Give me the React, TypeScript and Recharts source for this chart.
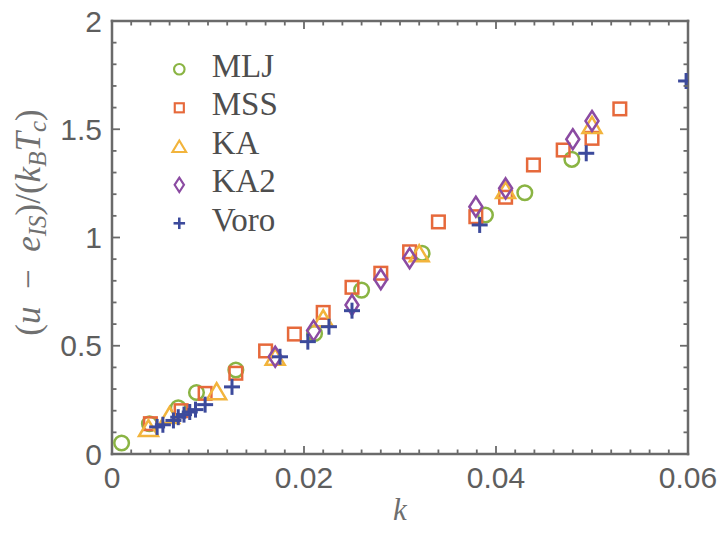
import React from 'react';
import { ScatterChart, Scatter, XAxis, YAxis, Legend } from 'recharts';

// ---- data ----
const mljK = [0.001, 0.0039, 0.0069, 0.0088, 0.0129, 0.0211, 0.026, 0.0323, 0.0389, 0.043, 0.0479];
const mljV = [0.051, 0.14, 0.213, 0.284, 0.388, 0.557, 0.757, 0.927, 1.104, 1.207, 1.361];

const mssK = [0.004, 0.0072, 0.0097, 0.0129, 0.016, 0.019, 0.022, 0.025, 0.028, 0.031, 0.034, 0.0379, 0.041, 0.0439, 0.047, 0.05, 0.0529];
const mssV = [0.14, 0.2, 0.28, 0.373, 0.476, 0.554, 0.654, 0.77, 0.835, 0.934, 1.072, 1.096, 1.186, 1.335, 1.404, 1.458, 1.594];

const kaK = [0.0038, 0.006, 0.0109, 0.017, 0.022, 0.032, 0.041, 0.05];
const kaV = [0.12, 0.18, 0.29, 0.449, 0.627, 0.927, 1.219, 1.52];

const ka2K = [0.017, 0.021, 0.025, 0.028, 0.031, 0.0379, 0.041, 0.048, 0.05];
const ka2V = [0.449, 0.57, 0.688, 0.807, 0.904, 1.142, 1.227, 1.454, 1.538];

const voroK = [0.0047, 0.0053, 0.0064, 0.0069, 0.0075, 0.0081, 0.0087, 0.0097, 0.0125, 0.0175, 0.0204, 0.0226, 0.025, 0.0383, 0.0494, 0.0598];
const voroV = [0.125, 0.135, 0.155, 0.17, 0.182, 0.194, 0.205, 0.228, 0.31, 0.449, 0.519, 0.588, 0.662, 1.058, 1.389, 1.723];

const seriesNames = ['MLJ', 'MSS', 'KA', 'KA2', 'Voro'];

const xMajorTicks = [0, 0.02, 0.04, 0.06];
const xTickLabels = ['0', '0.02', '0.04', '0.06'];
const xMinorTicks = [0, 0.002, 0.004, 0.006, 0.008, 0.01, 0.012, 0.014, 0.016, 0.018, 0.02, 0.022, 0.024, 0.026, 0.028, 0.03, 0.032, 0.034, 0.036, 0.038, 0.04, 0.042, 0.044, 0.046, 0.048, 0.05, 0.052, 0.054, 0.056, 0.058, 0.06];

const yMajorTicks = [0, 0.5, 1, 1.5, 2];
const yTickLabels = ['0', '0.5', '1', '1.5', '2'];
const yMinorTicks = [0, 0.1, 0.2, 0.3, 0.4, 0.5, 0.6, 0.7, 0.8, 0.9, 1, 1.1, 1.2, 1.3, 1.4, 1.5, 1.6, 1.7, 1.8, 1.9, 2];

const zip = (ks: number[], vs: number[]) => ks.map((k, i) => ({ k, v: vs[i] }));

const mljData = zip(mljK, mljV);
const mssData = zip(mssK, mssV);
const kaData = zip(kaK, kaV);
const ka2Data = zip(ka2K, ka2V);
const voroData = zip(voroK, voroV);

// ---- style ----
const FRAME = '#6a6a6a';
const TICK_TEXT = '#5e5e5e';
const C_MLJ = '#8ab443';
const C_MSS = '#e6693b';
const C_KA = '#f2b43c';
const C_KA2 = '#8b4ba2';
const C_VORO = '#3c4a9c';

type MP = { cx: number; cy: number; s?: number };

const CircleM = ({ cx, cy, s = 1 }: MP) => (
  <circle cx={cx} cy={cy} r={7.3 * s} fill="none" stroke={C_MLJ} strokeWidth={2.5 * Math.max(s, 0.85)} />
);
const SquareM = ({ cx, cy, s = 1 }: MP) => {
  const h = 6.3 * s;
  return <rect x={cx - h} y={cy - h} width={2 * h} height={2 * h} fill="none" stroke={C_MSS} strokeWidth={2.5 * Math.max(s, 0.85)} />;
};
const TriM = ({ cx, cy, s = 1 }: MP) => {
  const w = 9.5 * s;
  const h = 8 * s;
  return (
    <polygon
      points={`${cx},${cy - h} ${cx + w},${cy + h} ${cx - w},${cy + h}`}
      fill="none"
      stroke={C_KA}
      strokeWidth={2.5 * Math.max(s, 0.85)}
    />
  );
};
const DiaM = ({ cx, cy, s = 1 }: MP) => {
  const w = 6.5 * s;
  const h = 10 * s;
  return (
    <polygon
      points={`${cx},${cy - h} ${cx + w},${cy} ${cx},${cy + h} ${cx - w},${cy}`}
      fill="none"
      stroke={C_KA2}
      strokeWidth={2.5 * Math.max(s, 0.85)}
    />
  );
};
const PlusM = ({ cx, cy, s = 1 }: MP) => {
  const h = 8 * s;
  return (
    <g stroke={C_VORO} strokeWidth={3 * Math.max(s, 0.85)}>
      <line x1={cx - h} y1={cy} x2={cx + h} y2={cy} />
      <line x1={cx} y1={cy - h} x2={cx} y2={cy + h} />
    </g>
  );
};

const markers = [CircleM, SquareM, TriM, DiaM, PlusM];

const isIn = (arr: number[], v: number) => arr.findIndex((m) => Math.abs(m - v) < 1e-9);

const XTick = (props: any) => {
  const { x, y, payload, side } = props;
  const idx = isIn(xMajorTicks, payload.value);
  const major = idx >= 0;
  const len = major ? 8 : 4.5;
  const dir = side === 'bottom' ? -1 : 1;
  return (
    <g>
      <line x1={x} y1={y} x2={x} y2={y + dir * len} stroke={FRAME} strokeWidth={1.8} />
      {side === 'bottom' && major ? (
        <text x={x} y={y + 33.5} textAnchor="middle" fontFamily="Liberation Sans, Arial, sans-serif" fontSize={30} fill={TICK_TEXT}>
          {xTickLabels[idx]}
        </text>
      ) : null}
    </g>
  );
};

const YTick = (props: any) => {
  const { x, y, payload, side } = props;
  const idx = isIn(yMajorTicks, payload.value);
  const major = idx >= 0;
  const len = major ? 8 : 4.5;
  const dir = side === 'left' ? 1 : -1;
  return (
    <g>
      <line x1={x} y1={y} x2={x + dir * len} y2={y} stroke={FRAME} strokeWidth={1.8} />
      {side === 'left' && major ? (
        <text x={x - 10} y={y + 10.5} textAnchor="end" fontFamily="Liberation Sans, Arial, sans-serif" fontSize={30} fill={TICK_TEXT}>
          {yTickLabels[idx]}
        </text>
      ) : null}
    </g>
  );
};

const XLabel = () => (
  <text x={400} y={520} textAnchor="middle" fontFamily="Liberation Serif, serif" fontStyle="italic" fontSize={31} fill="#6e6e6e">
    k
  </text>
);

const YLabel = () => {
  const cx = 40;
  const cy = 222.5;
  return (
    <text
      x={cx}
      y={cy}
      transform={`rotate(-90, ${cx}, ${cy})`}
      textAnchor="middle"
      fontFamily="Liberation Serif, serif"
      fontSize={35}
      fill="#707070"
    >
      <tspan>(</tspan>
      <tspan fontStyle="italic">u</tspan>
      <tspan>{'\u2002\u2212\u2002'}</tspan>
      <tspan fontStyle="italic">e</tspan>
      <tspan fontStyle="italic" fontSize={25} dy={6}>IS</tspan>
      <tspan dy={-6}>)/(</tspan>
      <tspan fontStyle="italic">k</tspan>
      <tspan fontStyle="italic" fontSize={25} dy={6}>B</tspan>
      <tspan fontStyle="italic" dy={-6}>T</tspan>
      <tspan fontStyle="italic" fontSize={25} dy={6}>c</tspan>
      <tspan dy={-6}>)</tspan>
    </text>
  );
};

const LegendContent = () => (
  <svg width={240} height={210} style={{ overflow: 'visible' }}>
    {seriesNames.map((name, i) => {
      const M = markers[i];
      const cy = 31.3 + i * 38.5;
      return (
        <g key={name}>
          <M cx={31.3} cy={cy} s={0.72} />
          <text x={63.7} y={cy + 7.5} fontFamily="Liberation Serif, serif" fontSize={33} fill="#4e4e4e">
            {name}
          </text>
        </g>
      );
    })}
  </svg>
);

const axisLineStyle = { stroke: FRAME, strokeWidth: 2.5, strokeLinecap: 'square' as const };

export default function App() {
  return (
    <div style={{ position: 'absolute', left: 0, top: 0, width: 720, height: 533, overflow: 'hidden' }}>
      <ScatterChart width={720} height={533} margin={{ top: 20, right: 31, bottom: 0, left: 0 }}>
        <XAxis
          xAxisId="b"
          type="number"
          dataKey="k"
          orientation="bottom"
          domain={[0, 0.06]}
          allowDataOverflow
          ticks={xMinorTicks}
          interval={0}
          tickSize={0}
          tickMargin={0}
          tickLine={false}
          axisLine={axisLineStyle}
          tick={<XTick side="bottom" />}
          height={79}
          label={<XLabel />}
        />
        <XAxis
          xAxisId="t"
          type="number"
          dataKey="k"
          orientation="top"
          domain={[0, 0.06]}
          allowDataOverflow
          ticks={xMinorTicks}
          interval={0}
          tickSize={0}
          tickMargin={0}
          tickLine={false}
          axisLine={axisLineStyle}
          tick={<XTick side="top" />}
          height={1}
        />
        <YAxis
          yAxisId="l"
          type="number"
          dataKey="v"
          orientation="left"
          domain={[0, 2]}
          allowDataOverflow
          ticks={yMinorTicks}
          interval={0}
          tickSize={0}
          tickMargin={0}
          tickLine={false}
          axisLine={axisLineStyle}
          tick={<YTick side="left" />}
          width={112}
          label={<YLabel />}
        />
        <YAxis
          yAxisId="r"
          type="number"
          dataKey="v"
          orientation="right"
          domain={[0, 2]}
          allowDataOverflow
          ticks={yMinorTicks}
          interval={0}
          tickSize={0}
          tickMargin={0}
          tickLine={false}
          axisLine={axisLineStyle}
          tick={<YTick side="right" />}
          width={1}
        />
        <Legend
          layout="vertical"
          align="center"
          verticalAlign="middle"
          content={<LegendContent />}
          wrapperStyle={{ left: 148, top: 38, width: 240, height: 210 }}
        />
        <Scatter name="MLJ" data={mljData} xAxisId="b" yAxisId="l" isAnimationActive={false} shape={(p: any) => <CircleM cx={p.cx} cy={p.cy} />} />
        <Scatter name="MSS" data={mssData} xAxisId="b" yAxisId="l" isAnimationActive={false} shape={(p: any) => <SquareM cx={p.cx} cy={p.cy} />} />
        <Scatter name="KA" data={kaData} xAxisId="b" yAxisId="l" isAnimationActive={false} shape={(p: any) => <TriM cx={p.cx} cy={p.cy} />} />
        <Scatter name="KA2" data={ka2Data} xAxisId="b" yAxisId="l" isAnimationActive={false} shape={(p: any) => <DiaM cx={p.cx} cy={p.cy} />} />
        <Scatter name="Voro" data={voroData} xAxisId="b" yAxisId="l" isAnimationActive={false} shape={(p: any) => <PlusM cx={p.cx} cy={p.cy} />} />
      </ScatterChart>
    </div>
  );
}
